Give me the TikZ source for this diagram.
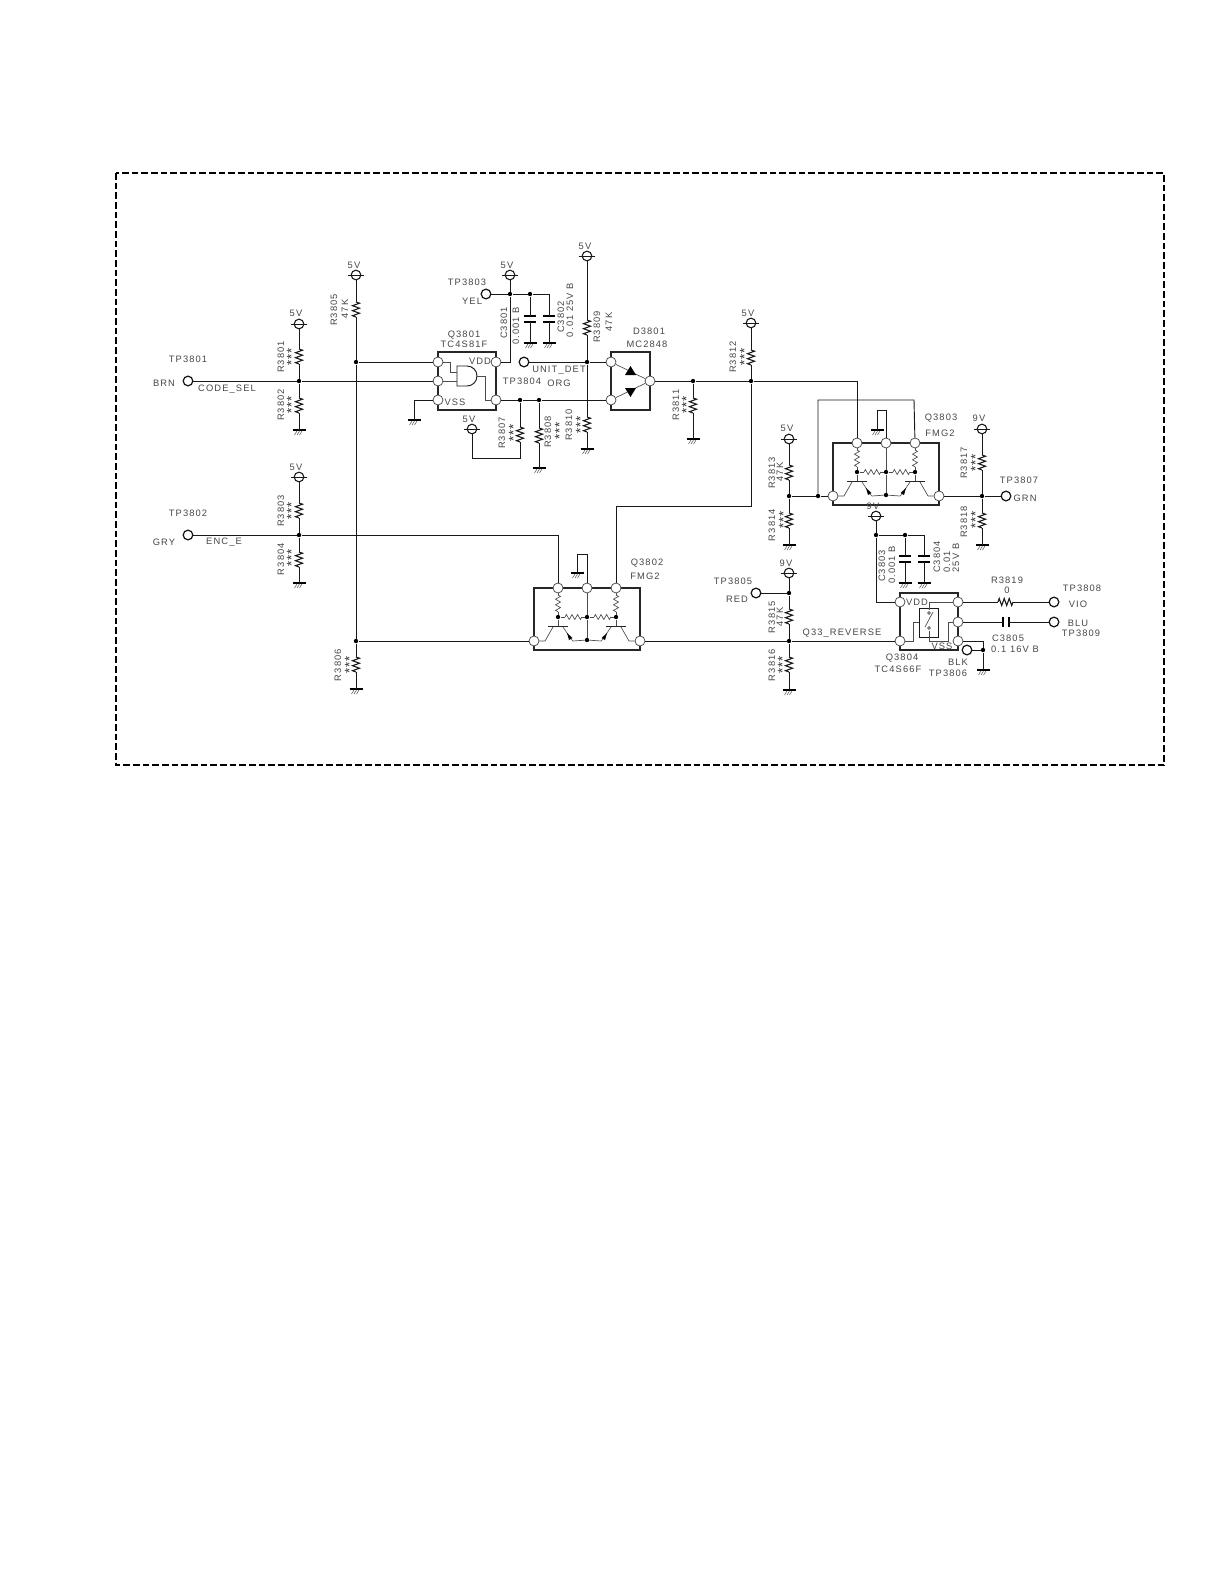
\documentclass[tikz,border=0pt]{standalone}
\usepackage{fontspec}
\setmainfont[LetterSpace=12]{Liberation Sans}
\newfontfamily\starfont[LetterSpace=6]{Liberation Sans}
\newcounter{tc}
\newcommand{\labfont}{\fontsize{5.6pt}{6.4pt}\selectfont}
\tikzset{
 x=0.6pt,y=-0.6pt,
 wire/.style={line width=0.55pt,black!90},
 reswire/.style={line width=0.65pt,black!90},
 thin wire/.style={line width=0.4pt,black!70},
 boxline/.style={line width=1.1pt,black!85},
 pinc/.style={circle,draw=black!70,line width=0.45pt,fill=white,inner sep=0pt,minimum size=6pt},
 tp/.style={circle,draw=black!90,line width=0.75pt,fill=white,inner sep=0pt,minimum size=5.8pt},
 sup/.style={circle,draw=black!90,line width=0.65pt,fill=white,inner sep=0pt,minimum size=5.8pt},
 dotj/.style={circle,fill=black,draw=none,inner sep=0pt,minimum size=2.6pt},
 txt/.style={font=\labfont,inner sep=0pt,text=black!72},
 rtxt/.style={txt,rotate=90},
 startxt/.style={font=\starfont\fontsize{8pt}{8pt}\selectfont,inner sep=0pt,text=black!80,rotate=90},
 frame/.style={line width=0.95pt,black,dash pattern=on 4pt off 1.8pt}
}
\newcommand{\tlab}[3]{\stepcounter{tc}\node[txt] (txt\thetc) at (#1,#2) {#3};}
\newcommand{\rlab}[3]{\stepcounter{tc}\node[rtxt] (txt\thetc) at (#1,#2) {#3};}
\newcommand{\stars}[2]{\stepcounter{tc}\node[startxt] (txt\thetc) at (#1+2.5,#2) {***};}
% resistor: name, x, ytop; height 15
\newcommand{\vres}[3]{\draw[reswire] (#2,#3) coordinate (#1-a) -- ++(3.5,1.2) -- ++(-7,2.5) -- ++(7,2.5) -- ++(-7,2.5) -- ++(7,2.5) -- ++(-7,2.5) -- ++(3.5,1.3) coordinate (#1-b);}
\newcommand{\hres}[3]{\draw[reswire] (#2,#3) coordinate (#1-a) -- ++(1.2,-3.5) -- ++(2.5,7) -- ++(2.5,-7) -- ++(2.5,7) -- ++(2.5,-7) -- ++(2.5,7) -- ++(1.3,-3.5) coordinate (#1-b);}
\newcommand{\ivres}[3]{\draw[thin wire] (#2,#3) coordinate (#1-a) -- ++(2.5,1.4) -- ++(-5,2.8) -- ++(5,2.8) -- ++(-5,2.8) -- ++(5,2.8) -- ++(-5,2.8) -- ++(2.5,1.4) coordinate (#1-b);}
\newcommand{\ihres}[3]{\draw[thin wire] (#2,#3) coordinate (#1-a) -- ++(1.4,-2.5) -- ++(2.8,5) -- ++(2.8,-5) -- ++(2.8,5) -- ++(2.8,-5) -- ++(2.8,5) -- ++(1.4,-2.5) coordinate (#1-b);}
% ground: name,x,y
\newcommand{\gnd}[3]{\coordinate (#1) at (#2,#3);
 \draw[line width=1pt,black] (#2-6.5,#3) -- (#2+6.5,#3);
 \draw[line width=0.3pt,black!70] (#2-2,#3+1) -- ++(-2.5,4) (#2+0.5,#3+1) -- ++(-2.5,4) (#2+3,#3+1) -- ++(-2.5,4);}
% supply: name,x,y
\newcommand{\supp}[3]{\draw[wire] (#2-8,#3) -- (#2+8,#3); \node[sup] (#1) at (#2,#3) {}; \draw[wire] (#2-5,#3) -- (#2+5,#3);}
% capacitor vertical: name,x,ytop (plates 6 apart)
\newcommand{\vcap}[3]{\coordinate (#1-a) at (#2,#3); \coordinate (#1-b) at (#2,#3+6);
 \draw[line width=1.1pt,black] (#2-6,#3) -- (#2+6,#3) (#2-6,#3+6) -- (#2+6,#3+6);}
% dual transistor: prefix, x, y
\newcommand{\fmg}[3]{\begin{scope}[shift={(#2,#3)}]
 \draw[boxline] (0,0) rectangle (106,62);
 \node[pinc] (#1-l) at (0,53) {};
 \node[pinc] (#1-r) at (106,53) {};
 \node[pinc] (#1-c1) at (24,0) {};
 \node[pinc] (#1-c2) at (53,0) {};
 \node[pinc] (#1-c3) at (82,0) {};
 \node[dotj] (#1-j1) at (24,29) {};
 \node[dotj] (#1-j2) at (53,29) {};
 \node[dotj] (#1-j3) at (82,29) {};
 \node[dotj] (#1-j4) at (53,52) {};
 \ivres{#1-r1}{24}{7}
 \ivres{#1-r2}{82}{7}
 \ihres{#1-r3}{31}{29}
 \ihres{#1-r4}{60}{29}
 \draw[thin wire] (#1-c1) -- (#1-r1-a) (#1-r1-b) -- (#1-j1) (#1-c3) -- (#1-r2-a) (#1-r2-b) -- (#1-j3);
 \draw[thin wire] (#1-j1) -- (#1-r3-a) (#1-r3-b) -- (#1-j2) -- (#1-r4-a) (#1-r4-b) -- (#1-j3);
 \draw[thin wire] (#1-c2) -- (#1-j2) -- (#1-j4);
 \draw[thin wire] (#1-j1) -- (24,38) (#1-j3) -- (82,38);
 \draw[line width=0.55pt,black!85] (14,38) -- (34,38) (72,38) -- (92,38);
 \draw[thin wire] (#1-l) -- (11,53) -- (19,39) (#1-r) -- (95,53) -- (87,39);
 \draw[thin wire] (29,39) -- (37,51) -- (39,53) -- (#1-j4) -- (67,53) -- (69,51) -- (77,39);
 \fill[black] (33,45) -- (38.5,50) -- (35,52) -- cycle;
 \fill[black] (73,45) -- (67.5,50) -- (71,52) -- cycle;
\end{scope}}
\begin{document}
\begin{tikzpicture}
\useasboundingbox (0,0) rectangle (1224,1584);
\fill[white] (0,0) rectangle (1224,1584);
% frame
\draw[frame] (116,173) rectangle (1164,765);

% ---------- left column nodes
\node[tp] (tp1) at (188,381) {};
\node[tp] (tp2) at (188,535) {};
\node[dotj] (j1) at (299,381) {};
\node[dotj] (j2) at (299,535) {};
\node[dotj] (j3) at (356,362) {};
\node[dotj] (j4) at (356,641) {};
\supp{s1}{299}{324}
\supp{s2}{299}{477}
\supp{s3}{356}{275}
\vres{r1}{299}{349}
\vres{r2}{299}{398}
\vres{r3}{299}{503}
\vres{r4}{299}{552}
\vres{r5}{356}{302}
\vres{r6}{356}{657}
\gnd{g1}{299}{430}
\gnd{g2}{299}{583}
\gnd{g3}{356}{689}
\draw[wire] (s1) -- (r1-a) (r1-b) -- (j1) -- (r2-a) (r2-b) -- (g1);
\draw[wire] (s2) -- (r3-a) (r3-b) -- (j2) -- (r4-a) (r4-b) -- (g2);
\draw[wire] (s3) -- (r5-a) (r5-b) -- (j3) -- (j4) -- (r6-a) (r6-b) -- (g3);
\draw[wire] (tp2) -- (j2);

% ---------- Q3801
\draw[boxline] (438,352) rectangle (496,410);
\node[pinc] (q1a) at (438,362) {};
\node[pinc] (q1b) at (438,381) {};
\node[pinc] (q1c) at (438,400) {};
\node[pinc] (q1d) at (496,362) {};
\node[pinc] (q1e) at (496,400) {};
\draw[wire] (457,366) -- (467,366) arc (-90:90:10) -- (457,386) -- cycle;
\coordinate (ga) at (457,372);
\coordinate (gb) at (457,381);
\coordinate (gc) at (477,376);
\draw[thin wire] (q1a) -- (450,362) |- (ga) (q1b) -- (gb);
\draw[thin wire] (gc) -| (485,400) -- (q1e);
\draw[wire] (tp1) -- (j1) -- (q1b);
\draw[wire] (j3) -- (q1a);
\gnd{g4}{414}{420}
\draw[wire] (q1c) -| (g4);

% ---------- VDD rail / C3801 / C3802
\node[tp] (tp3) at (486,294) {};
\node[dotj] (j5) at (510,294) {};
\node[dotj] (j6) at (530,294) {};
\coordinate (k1) at (549,294);
\supp{s4}{510}{275}
\vcap{c1}{530}{316}
\vcap{c2}{549}{316}
\gnd{g5}{530}{343}
\gnd{g6}{549}{343}
\draw[wire] (s4) -- (j5) |- (q1d);
\draw[wire] (tp3) -- (j5) -- (j6) -- (k1) -- (c2-a) (c2-b) -- (g6);
\draw[wire] (j6) -- (c1-a) (c1-b) -- (g5);

% ---------- D3801 and UNIT_DET
\draw[boxline] (611,352) rectangle (650,410);
\node[pinc] (d1a) at (611,362) {};
\node[pinc] (d1b) at (611,400) {};
\node[pinc] (d1c) at (650,381) {};
\draw[thin wire] (d1a) -- (d1c) (d1b) -- (d1c);
\fill[black] (625,375) -- (636,375) -- (630.5,366) -- cycle;
\fill[black] (625,388) -- (636,388) -- (630.5,397) -- cycle;
\node[tp] (tp4) at (524,362) {};
\node[dotj] (j7) at (587,362) {};
\supp{s5}{587}{256}
\vres{r9}{587}{320}
\vres{r10}{587}{417}
\gnd{g7}{587}{449}
\draw[wire] (s5) -- (r9-a) (r9-b) -- (j7) -- (r10-a) (r10-b) -- (g7);
\draw[wire] (tp4) -- (j7) -- (d1a);
\node[dotj] (j8) at (520,400) {};
\node[dotj] (j9) at (539,400) {};
\draw[wire] (q1e) -- (j8) -- (j9) -- (d1b);
\vres{r7}{520}{427}
\vres{r8}{539}{428}
\supp{s6}{472}{429}
\gnd{g8}{539}{468}
\coordinate (k2) at (472,458);
\coordinate (k3) at (520,458);
\draw[wire] (j8) -- (r7-a) (r7-b) -- (k3) -- (k2) -- (s6);
\draw[wire] (j9) -- (r8-a) (r8-b) -- (g8);

% ---------- R3811, R3812 and signal to Q3803
\node[dotj] (j10) at (693,381) {};
\node[dotj] (j11) at (751,381) {};
\vres{r11}{693}{398}
\gnd{g9}{693}{439}
\supp{s7}{751}{323}
\vres{r12}{751}{350}
\draw[wire] (j10) -- (r11-a) (r11-b) -- (g9);
\draw[wire] (s7) -- (r12-a) (r12-b) -- (j11);
\draw[wire] (d1c) -- (j10) -- (j11);

% ---------- Q3802
\fmg{qb}{534}{588}
\coordinate (k4) at (751,506);
\draw[wire] (j11) -- (k4) -| (qb-c3);
\draw[wire] (j2) -| (qb-c1);
\draw[wire] (j4) -- (qb-l);
\gnd{g10}{577}{573}
\draw[wire] (g10) |- (587,554) -- (qb-c2);

% ---------- Q3803
\fmg{qc}{833}{443}
\draw[wire] (j11) -| (qc-c1);
\gnd{g11}{877}{430}
\draw[wire] (g11) |- (886,410) -- (qc-c2);
\node[dotj] (j12) at (818,496) {};
\node[dotj] (j13) at (789,496) {};
\node[dotj] (j14) at (982,496) {};
\draw[wire] (j12) |- (914,400) -- (qc-c3);
\draw[wire] (j13) -- (j12) -- (qc-l);
\supp{s8}{789}{439}
\vres{r13}{789}{465}
\vres{r14}{789}{513}
\gnd{g12}{789}{545}
\draw[wire] (s8) -- (r13-a) (r13-b) -- (j13) -- (r14-a) (r14-b) -- (g12);
\supp{s9}{982}{429}
\vres{r17}{982}{455}
\vres{r18}{982}{513}
\gnd{g13}{982}{545}
\node[tp] (tp7) at (1006,496) {};
\draw[wire] (s9) -- (r17-a) (r17-b) -- (j14) -- (r18-a) (r18-b) -- (g13);
\draw[wire] (qc-r) -- (j14) -- (tp7);

% ---------- Q3804
\draw[boxline] (900,593) rectangle (958,650);
\node[pinc] (q4a) at (900,602) {};
\node[pinc] (q4b) at (900,641) {};
\node[pinc] (q4c) at (958,602) {};
\node[pinc] (q4d) at (958,622) {};
\node[pinc] (q4e) at (958,641) {};
\draw[wire] (919,608) rectangle (938,637);
\draw[thin wire] (q4b) -- (913,641) -- (913,622) -- (919,622);
\draw[thin wire] (q4c) -- (929,602) -- (929,610);
\draw[thin wire] (929,631) -- (929,641) -- (948,641) -- (948,622) -- (q4d);
\draw[thin wire] (925,627) -- (933,612);
\draw[thin wire,fill=white] (929,613) circle (1.3) (929,628) circle (1.3);
\node[dotj] (j15) at (876,535) {};
\node[dotj] (j16) at (905,535) {};
\coordinate (k5) at (924,535);
\supp{s10}{876}{516}
\vcap{c3}{905}{556}
\vcap{c4}{924}{556}
\gnd{g14}{905}{583}
\gnd{g15}{924}{583}
\draw[wire] (s10) -- (j15) |- (q4a);
\draw[wire] (j15) -- (j16) -- (k5) -- (c4-a) (c4-b) -- (g15);
\draw[wire] (j16) -- (c3-a) (c3-b) -- (g14);
\node[tp] (tp5) at (756,593) {};
\node[dotj] (j17) at (789,593) {};
\node[dotj] (j18) at (789,641) {};
\supp{s11}{789}{573}
\vres{r15}{789}{609}
\vres{r16}{789}{657}
\gnd{g16}{789}{690}
\draw[wire] (s11) -- (j17) -- (r15-a) (r15-b) -- (j18) -- (r16-a) (r16-b) -- (g16);
\draw[wire] (tp5) -- (j17);
\draw[wire] (qb-r) -- (j18) -- (q4b);
\hres{r19}{998}{602}
\node[tp] (tp8) at (1054,602) {};
\node[tp] (tp9) at (1054,622) {};
\draw[wire] (q4c) -- (r19-a) (r19-b) -- (tp8);
\coordinate (c5-a) at (1003,622);
\coordinate (c5-b) at (1009,622);
\draw[line width=1.1pt,black] (1003,617) -- (1003,627) (1009,617) -- (1009,627);
\draw[wire] (q4d) -- (c5-a) (c5-b) -- (tp9);
\node[dotj] (j19) at (983,650) {};
\node[tp] (tp6) at (967,650) {};
\gnd{g17}{983}{670}
\draw[wire] (q4e) -| (j19) -- (g17);
\draw[wire] (tp6) -- (j19);

% ---------- text
\tlab{188}{359}{TP3801}
\tlab{164}{383}{BRN}
\tlab{227}{389}{CODE\_SEL}
\tlab{188}{513}{TP3802}
\tlab{164}{542}{GRY}
\tlab{224}{542}{ENC\_E}
\tlab{296}{313}{5V}
\tlab{296}{467}{5V}
\tlab{354}{265}{5V}
\tlab{507}{265}{5V}
\tlab{585}{246}{5V}
\tlab{469}{419}{5V}
\tlab{748}{313}{5V}
\tlab{787}{428}{5V}
\tlab{979}{418}{9V}
\tlab{873}{506}{9V}
\tlab{786}{563}{9V}
\rlab{281}{357}{R3801}
\stars{289}{357}
\rlab{281}{405}{R3802}
\stars{289}{405}
\rlab{281}{511}{R3803}
\stars{289}{511}
\rlab{281}{559}{R3804}
\stars{289}{558}
\rlab{334}{310}{R3805}
\rlab{345}{309}{47K}
\rlab{338}{665}{R3806}
\stars{347}{665}
\tlab{464}{335}{Q3801}
\tlab{464}{344}{TC4S81F}
\tlab{480}{361}{VDD}
\tlab{455}{402}{VSS}
\tlab{467}{282}{TP3803}
\tlab{472}{301}{YEL}
\rlab{504}{323}{C3801}
\rlab{516}{326}{0.001 B}
\rlab{561}{317}{C3802}
\rlab{570}{310}{0.01 25V B}
\rlab{597}{327}{R3809}
\rlab{609}{322}{47K}
\tlab{649}{331}{D3801}
\tlab{647}{344}{MC2848}
\tlab{559}{370}{UNIT\_DET}
\tlab{522}{381}{TP3804}
\tlab{559}{383}{ORG}
\rlab{502}{433}{R3807}
\stars{511}{433}
\rlab{548}{432}{R3808}
\stars{557}{431}
\rlab{569}{425}{R3810}
\stars{578}{425}
\rlab{676}{405}{R3811}
\stars{684}{405}
\rlab{733}{357}{R3812}
\stars{742}{357}
\tlab{941}{418}{Q3803}
\tlab{940}{433}{FMG2}
\rlab{772}{473}{R3813}
\rlab{780}{472}{47K}
\rlab{772}{525}{R3814}
\stars{781}{520}
\rlab{964}{463}{R3817}
\stars{973}{463}
\tlab{1019}{480}{TP3807}
\tlab{1025}{498}{GRN}
\rlab{964}{522}{R3818}
\stars{973}{520}
\rlab{882}{566}{C3803}
\rlab{892}{565}{0.001 B}
\rlab{937}{557}{C3804}
\rlab{947}{562}{0.01}
\rlab{956}{558}{25V B}
\tlab{733}{581}{TP3805}
\tlab{737}{599}{RED}
\rlab{772}{617}{R3815}
\rlab{780}{617}{47K}
\rlab{772}{665}{R3816}
\stars{780}{665}
\tlab{842}{633}{Q33\_REVERSE}
\tlab{902}{658}{Q3804}
\tlab{898}{669}{TC4S66F}
\tlab{917}{602}{VDD}
\tlab{942}{646}{VSS}
\tlab{958}{662}{BLK}
\tlab{948}{673}{TP3806}
\tlab{1007}{580}{R3819}
\tlab{1007}{590}{0}
\tlab{1082}{588}{TP3808}
\tlab{1078}{604}{VIO}
\tlab{1078}{623}{BLU}
\tlab{1081}{633}{TP3809}
\tlab{1008}{638}{C3805}
\tlab{1015}{649}{0.1 16V B}
\tlab{647}{563}{Q3802}
\tlab{645}{576}{FMG2}
\end{tikzpicture}
\end{document}
